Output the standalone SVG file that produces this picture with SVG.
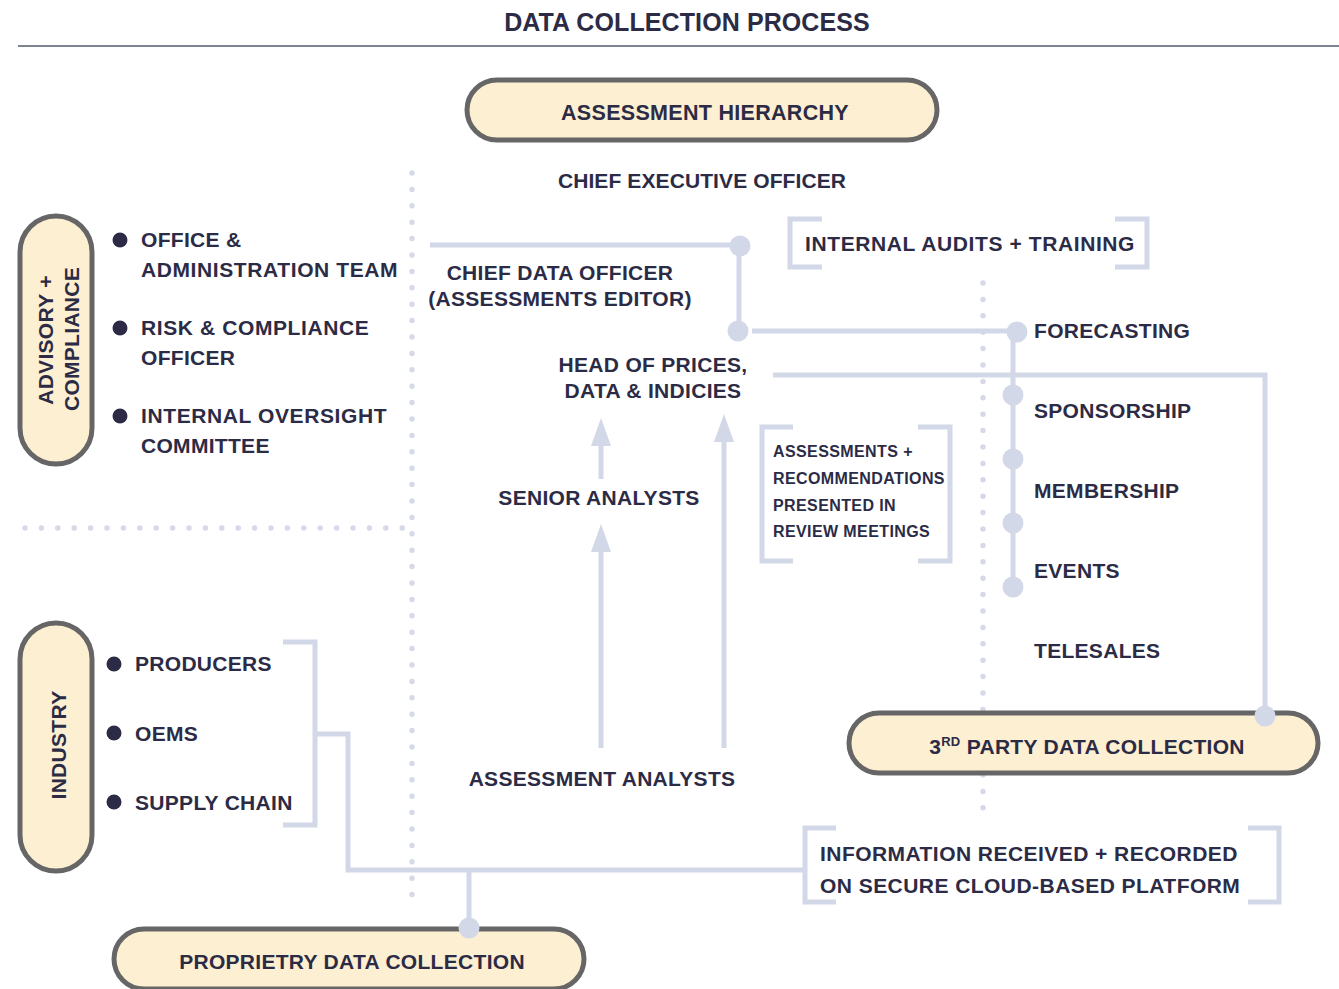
<svg xmlns="http://www.w3.org/2000/svg" width="1339" height="989" viewBox="0 0 1339 989">
<defs>
<style>
text{font-family:"Liberation Sans",Arial,sans-serif;font-weight:bold;fill:#2c2b46;font-size:21px;letter-spacing:0.3px}
.mid{text-anchor:middle}
.small{font-size:16px;letter-spacing:0.4px}
.title{font-size:25px;letter-spacing:0.1px}
.wide{letter-spacing:0.6px}
.pill{fill:#fdefd1;stroke:#666666;stroke-width:5}
.ln{fill:none;stroke:#d3d8e8;stroke-width:5}
.dot{fill:none;stroke:#d6d9e8;stroke-width:5.5;stroke-linecap:round;stroke-dasharray:0 16.4}
.node{fill:#d3d8e8}
.bul{fill:#2c2b46}
</style>
<marker id="ah" viewBox="0 0 28 20" markerWidth="28" markerHeight="20" refX="1" refY="10" orient="auto" markerUnits="userSpaceOnUse">
<path d="M0,0 L28,10 L0,20 z" fill="#d3d8e8"/>
</marker>
</defs>
<rect width="1339" height="989" fill="#ffffff"/>

<g id="header">
<text class="title mid" x="687" y="31">DATA COLLECTION PROCESS</text>
<line x1="18" y1="46" x2="1339" y2="46" stroke="#555a6a" stroke-width="1.5"/>
</g>

<g id="dividers">
<line class="dot" x1="412" y1="173" x2="412" y2="905"/>
<line class="dot" x1="25" y1="528" x2="405" y2="528"/>
<line class="dot" x1="983" y1="283" x2="983" y2="820"/>
</g>

<g id="connectors">
<polyline class="ln" points="430,245 740,245"/>
<polyline class="ln" points="739,245 739,331"/>
<polyline class="ln" points="752,331 1016,331"/>
<polyline class="ln" points="1013,331 1013,588"/>
<polyline class="ln" points="773,375 1265,375 1265,716"/>
<polyline class="ln" points="283,642 315,642 315,825 283,825"/>
<polyline class="ln" points="315,734 348,734 348,870 805,870"/>
<polyline class="ln" points="469,870 469,928"/>
<line class="ln" x1="601" y1="479" x2="601" y2="445" marker-end="url(#ah)"/>
<line class="ln" x1="601" y1="748" x2="601" y2="551" marker-end="url(#ah)"/>
<line class="ln" x1="724" y1="748" x2="724" y2="441" marker-end="url(#ah)"/>
<circle class="node" cx="740" cy="246" r="10.5"/>
<circle class="node" cx="738" cy="331" r="10.5"/>
<circle class="node" cx="1017" cy="332" r="10.5"/>
<circle class="node" cx="1013" cy="395" r="10.5"/>
<circle class="node" cx="1013" cy="459" r="10.5"/>
<circle class="node" cx="1013" cy="523" r="10.5"/>
<circle class="node" cx="1013" cy="587" r="10.5"/>
</g>

<g id="assessment-hierarchy">
<rect class="pill" x="467" y="80" width="470" height="60" rx="30"/>
<text class="mid" x="705" y="120" style="font-size:21.5px">ASSESSMENT HIERARCHY</text>
</g>

<g id="ceo"><text class="mid" x="702" y="188" style="letter-spacing:0.1px">CHIEF EXECUTIVE OFFICER</text></g>
<g id="cdo"><text class="mid" x="560" y="280">CHIEF DATA OFFICER</text><text class="mid" x="560" y="306">(ASSESSMENTS EDITOR)</text></g>
<g id="head-prices"><text class="mid" x="653" y="372">HEAD OF PRICES,</text><text class="mid" x="653" y="398">DATA &amp; INDICIES</text></g>
<g id="senior"><text class="mid" x="599" y="505">SENIOR ANALYSTS</text></g>
<g id="analysts"><text class="mid" x="602" y="786">ASSESSMENT ANALYSTS</text></g>

<g id="audits">
<polyline class="ln" points="822,219 790,219 790,267 822,267"/>
<polyline class="ln" points="1115,219 1147,219 1147,267 1115,267"/>
<text class="wide" x="805" y="251">INTERNAL AUDITS + TRAINING</text>
</g>

<g id="review">
<polyline class="ln" points="793,427 762,427 762,561 793,561"/>
<polyline class="ln" points="918,427 950,427 950,561 918,561"/>
<text class="small" x="773" y="457">ASSESSMENTS +</text>
<text class="small" x="773" y="484">RECOMMENDATIONS</text>
<text class="small" x="773" y="511">PRESENTED IN</text>
<text class="small" x="773" y="537">REVIEW MEETINGS</text>
</g>

<g id="commercial">
<text x="1034" y="338">FORECASTING</text>
<text x="1034" y="418">SPONSORSHIP</text>
<text x="1034" y="498">MEMBERSHIP</text>
<text x="1034" y="578">EVENTS</text>
<text x="1034" y="658">TELESALES</text>
</g>

<g id="third-party">
<rect class="pill" x="849" y="713" width="469" height="60" rx="30"/>
<circle class="node" cx="1265" cy="716" r="10.5"/>
<text class="mid" x="1087" y="754">3<tspan style="font-size:13px" dy="-8">RD</tspan><tspan dy="8"> PARTY DATA COLLECTION</tspan></text>
</g>

<g id="platform">
<polyline class="ln" points="836,828 805,828 805,902 836,902"/>
<polyline class="ln" points="1248,828 1279,828 1279,902 1248,902"/>
<text class="wide" x="820" y="861" style="letter-spacing:0.45px">INFORMATION RECEIVED + RECORDED</text>
<text class="wide" x="820" y="893" style="letter-spacing:0.45px">ON SECURE CLOUD-BASED PLATFORM</text>
</g>

<g id="advisory">
<rect class="pill" x="20" y="216" width="72" height="248" rx="36"/>
<text class="mid" transform="translate(53,340) rotate(-90)">ADVISORY +</text>
<text class="mid" transform="translate(79,339) rotate(-90)">COMPLIANCE</text>
<circle class="bul" cx="120" cy="240" r="7.5"/>
<circle class="bul" cx="120" cy="328" r="7.5"/>
<circle class="bul" cx="120" cy="416" r="7.5"/>
<text x="141" y="247">OFFICE &amp;</text>
<text class="wide" x="141" y="277">ADMINISTRATION TEAM</text>
<text class="wide" x="141" y="335">RISK &amp; COMPLIANCE</text>
<text x="141" y="365">OFFICER</text>
<text class="wide" x="141" y="423">INTERNAL OVERSIGHT</text>
<text x="141" y="453">COMMITTEE</text>
</g>

<g id="industry">
<rect class="pill" x="20" y="623" width="72" height="248" rx="36"/>
<text class="mid" transform="translate(66,745) rotate(-90)">INDUSTRY</text>
<circle class="bul" cx="114" cy="664" r="7.5"/>
<circle class="bul" cx="114" cy="733" r="7.5"/>
<circle class="bul" cx="114" cy="802" r="7.5"/>
<text x="135" y="671">PRODUCERS</text>
<text x="135" y="741">OEMS</text>
<text x="135" y="810">SUPPLY CHAIN</text>
</g>

<g id="proprietry">
<rect class="pill" x="114" y="929" width="470" height="60" rx="30"/>
<circle class="node" cx="469" cy="928" r="10.5"/>
<text class="mid" x="352" y="969">PROPRIETRY DATA COLLECTION</text>
</g>
</svg>
